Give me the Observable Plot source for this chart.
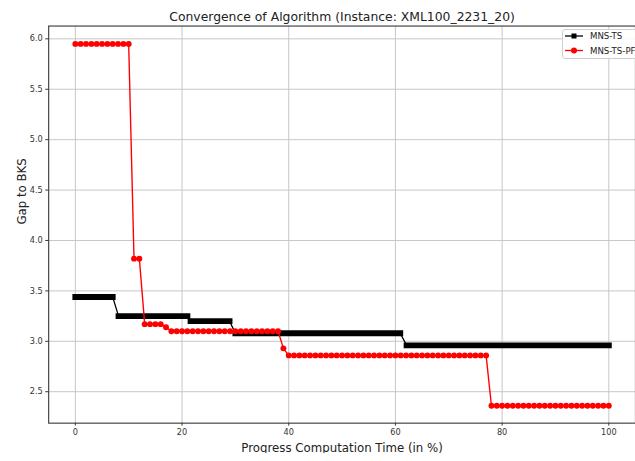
<!DOCTYPE html>
<html><head><meta charset="utf-8">
<script src="https://cdn.jsdelivr.net/npm/d3@7"></script>
<script src="https://cdn.jsdelivr.net/npm/@observablehq/plot@0.6"></script>
<style>
body{margin:0;background:#fff;}
#wrap{position:relative;width:635px;height:461px;overflow:hidden;font-family:"DejaVu Sans",sans-serif;background:#fff;}
#legend{position:absolute;left:562px;top:29px;}
</style></head><body><div id="wrap"></div>
<script>
const titleText = "Convergence of Algorithm (Instance: XML100_2231_20)";
const xLabel = "Progress Computation Time (in %)";
const yLabel = "Gap to BKS";
const seriesNames = ["MNS-TS", "MNS-TS-PF"];
const seriesColors = ["#000000", "#ff0000"];

const redX = [0,1,2,3,4,5,6,7,8,9,10,11,12,13,14,15,16,17,18,19,20,21,22,23,24,25,26,27,28,29,30,31,32,33,34,35,36,37,38,39,40,41,42,43,44,45,46,47,48,49,50,51,52,53,54,55,56,57,58,59,60,61,62,63,64,65,66,67,68,69,70,71,72,73,74,75,76,77,78,79,80,81,82,83,84,85,86,87,88,89,90,91,92,93,94,95,96,97,98,99,100];
const redY = [5.95,5.95,5.95,5.95,5.95,5.95,5.95,5.95,5.95,5.95,5.95,
  3.82,3.82,
  3.17,3.17,3.17,3.17,
  3.14,
  3.10,3.10,3.10,3.10,3.10,3.10,3.10,3.10,3.10,3.10,3.10,3.10,3.10,3.10,3.10,3.10,3.10,3.10,3.10,3.10,3.10,
  2.93,
  2.86,2.86,2.86,2.86,2.86,2.86,2.86,2.86,2.86,2.86,2.86,2.86,2.86,2.86,2.86,2.86,2.86,2.86,2.86,2.86,2.86,2.86,2.86,2.86,2.86,2.86,2.86,2.86,2.86,2.86,2.86,2.86,2.86,2.86,2.86,2.86,2.86,2.86,
  2.36,2.36,2.36,2.36,2.36,2.36,2.36,2.36,2.36,2.36,2.36,2.36,2.36,2.36,2.36,2.36,2.36,2.36,2.36,2.36,2.36,2.36,2.36];

const blackX = [0, 7.0, 8.1, 21.0, 21.6, 28.9, 30.0, 60.9, 62.1, 100];
const blackY = [3.44, 3.44, 3.25, 3.25, 3.20, 3.20, 3.08, 3.08, 2.96, 2.96];
const blackStep = [0, 0, 1, 1, 2, 2, 3, 3, 4, 4];

const xTicks = [0, 20, 40, 60, 80, 100];
const yTicks = [2.5, 3.0, 3.5, 4.0, 4.5, 5.0, 5.5, 6.0];

const red = redX.map((x, i) => ({x, y: redY[i]}));
const black = blackX.map((x, i) => ({x, y: blackY[i], step: blackStep[i]}));

const chart = Plot.plot({
  width: 646, height: 461,
  marginLeft: 49, marginRight: 0, marginTop: 26, marginBottom: 31,
  style: {fontFamily: "DejaVu Sans, sans-serif", background: "white", overflow: "hidden"},
  x: {domain: [-5, 105], label: null},
  y: {domain: [2.188, 6.127], label: null},
  marks: [
    Plot.gridX(xTicks, {stroke: "#c6c6c6", strokeOpacity: 1, strokeWidth: 1}),
    Plot.gridY(yTicks, {stroke: "#c6c6c6", strokeOpacity: 1, strokeWidth: 1}),
    Plot.line(black, {x: "x", y: "y", stroke: seriesColors[0], strokeWidth: 1.3}),
    Plot.line(black, {x: "x", y: "y", z: "step", stroke: seriesColors[0], strokeWidth: 6, strokeLinecap: "square"}),
    Plot.line(red, {x: "x", y: "y", stroke: seriesColors[1], strokeWidth: 1.4}),
    Plot.dot(red, {x: "x", y: "y", fill: seriesColors[1], r: 3, stroke: "none"}),
    Plot.frame({stroke: "#444", strokeWidth: 1.2}),
    Plot.axisX({ticks: xTicks, tickSize: 3, tickPadding: 3, fontSize: 8.3, color: "#333", label: null}),
    Plot.axisY({ticks: yTicks, tickSize: 3, tickPadding: 3, fontSize: 8.3, color: "#333", label: null, tickFormat: d3.format(".1f")}),
    Plot.text([titleText], {frameAnchor: "top", dy: -5, lineAnchor: "bottom", fontSize: 12.6, fill: "#222"}),
    Plot.text([xLabel], {frameAnchor: "bottom", dy: 25, lineAnchor: "middle", fontSize: 12, fill: "#222"}),
    Plot.text([yLabel], {frameAnchor: "left", dx: -27, rotate: -90, lineAnchor: "middle", fontSize: 12, fill: "#222"})
  ]
});
const wrap = document.getElementById("wrap");
wrap.appendChild(chart);

// legend
const leg = d3.select(wrap).append("div").attr("id", "legend");
const ls = leg.append("svg").attr("width", 90).attr("height", 31);
ls.append("rect").attr("x", 0.5).attr("y", 0.5).attr("width", 110).attr("height", 29)
  .attr("rx", 2.5).attr("fill", "rgba(255,255,255,0.85)").attr("stroke", "#cfcfcf");
seriesNames.forEach((name, i) => {
  const cy = 7 + i * 14.5;
  const g = ls.append("g");
  g.append("line").attr("x1", 3).attr("x2", 21).attr("y1", cy).attr("y2", cy)
    .attr("stroke", seriesColors[i]).attr("stroke-width", 1.3);
  if (i === 0) g.append("rect").attr("x", 12 - 2.5).attr("y", cy - 2.5).attr("width", 5).attr("height", 5).attr("fill", seriesColors[i]);
  else g.append("circle").attr("cx", 12).attr("cy", cy).attr("r", 3).attr("fill", seriesColors[i]);
  g.append("text").attr("x", 28).attr("y", cy).attr("dy", "0.35em").attr("font-size", 8.6)
    .attr("font-family", "DejaVu Sans, sans-serif").attr("fill", "#222").text(name);
});
</script>
</body></html>
